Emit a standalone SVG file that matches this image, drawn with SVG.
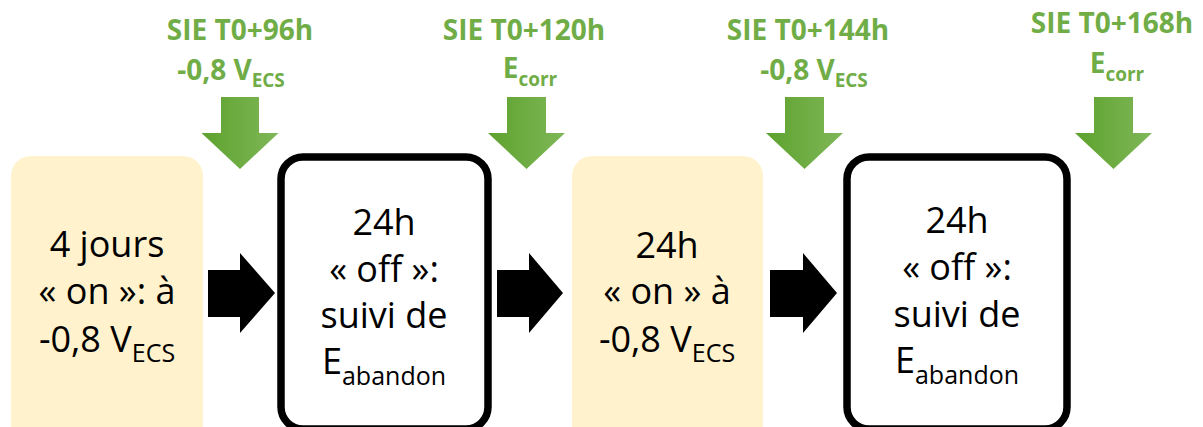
<svg xmlns="http://www.w3.org/2000/svg" width="1203" height="427" viewBox="0 0 1203 427">
<style>
.on{fill:#FFF2CC;stroke:none}
.off{fill:#FFFFFF;stroke:#000000;stroke-width:7.5}
.t{font-family:"Open Sans","Liberation Sans",sans-serif;font-size:36px;fill:#000;text-anchor:middle}
.sub{font-size:25px}
.g{font-family:"Open Sans","Liberation Sans",sans-serif;font-weight:bold;font-size:28px;fill:#70AD47;text-anchor:middle}
.gsub{font-size:19px}
.blk{fill:#000}
.grn{fill:url(#gg)}
</style>
<defs>
<linearGradient id="gg" x1="0" y1="0" x2="1" y2="0">
<stop offset="0" stop-color="#5EA22E"/>
<stop offset="1" stop-color="#7FB758"/>
</linearGradient>
</defs>
<rect width="1203" height="427" fill="#FFFFFF"/>

<g id="node-on1">
<rect class="on" x="11" y="156" width="192" height="300" rx="20"/>
<text class="t" x="107" y="257">4 jours</text>
<text class="t" x="107" y="304">« on »: à</text>
<text class="t" x="107" y="352">-0,8 V<tspan class="sub" dy="10">ECS</tspan></text>
</g>

<g id="node-off1">
<rect class="off" x="281" y="157" width="207" height="272" rx="22"/>
<text class="t" x="384" y="235">24h</text>
<text class="t" x="384" y="282">« off »:</text>
<text class="t" x="384" y="328">suivi de</text>
<text class="t" x="384" y="374">E<tspan class="sub" dy="11">abandon</tspan></text>
</g>

<g id="node-on2">
<rect class="on" x="572" y="156" width="191" height="300" rx="20"/>
<text class="t" x="667" y="258">24h</text>
<text class="t" x="667" y="304">« on » à</text>
<text class="t" x="667" y="352">-0,8 V<tspan class="sub" dy="10">ECS</tspan></text>
</g>

<g id="node-off2">
<rect class="off" x="847" y="157" width="220" height="272" rx="22"/>
<text class="t" x="957" y="233">24h</text>
<text class="t" x="957" y="280">« off »:</text>
<text class="t" x="957" y="327">suivi de</text>
<text class="t" x="957" y="373">E<tspan class="sub" dy="11">abandon</tspan></text>
</g>

<g id="connectors">
<polygon class="blk" points="208,270 240,270 240,253 275,293 240,333 240,317 208,317"/>
<polygon class="blk" points="497,270 529,270 529,253 563,293 529,333 529,317 497,317"/>
<polygon class="blk" points="770,270 803,270 803,253 837,293 803,333 803,317 770,317"/>
</g>

<g id="sie96">
<text class="g" x="240" y="40">SIE T0+96h</text>
<text class="g" x="231" y="80">-0,8 V<tspan class="gsub" dy="7">ECS</tspan></text>
<polygon class="grn" points="221,97 259,97 259,133 278.5,133 240,169 201.5,133 221,133"/>
</g>

<g id="sie120">
<text class="g" x="524" y="40">SIE T0+120h</text>
<text class="g" x="530" y="78">E<tspan class="gsub" dy="8">corr</tspan></text>
<polygon class="grn" points="507,97 546,97 546,133 565,133 526.5,169 488,133 507,133"/>
</g>

<g id="sie144">
<text class="g" x="808" y="40">SIE T0+144h</text>
<text class="g" x="814" y="80">-0,8 V<tspan class="gsub" dy="7">ECS</tspan></text>
<polygon class="grn" points="785,97 824,97 824,133 843,133 804.5,169 766,133 785,133"/>
</g>

<g id="sie168">
<text class="g" x="1112" y="33">SIE T0+168h</text>
<text class="g" x="1117" y="73">E<tspan class="gsub" dy="8">corr</tspan></text>
<polygon class="grn" points="1094,97 1133,97 1133,133 1152,133 1113.5,169 1075,133 1094,133"/>
</g>
</svg>
